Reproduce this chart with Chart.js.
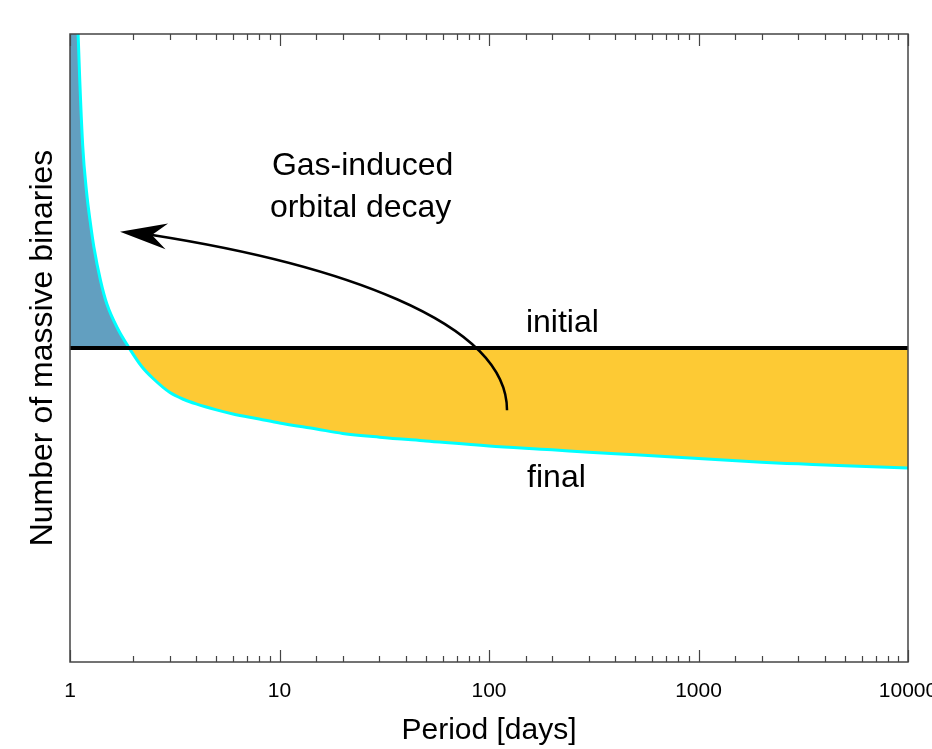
<!DOCTYPE html>
<html>
<head>
<meta charset="utf-8">
<script src="https://cdn.jsdelivr.net/npm/chart.js@4/dist/chart.umd.min.js"></script>
<style>
  body { margin: 0; background: #fff; }
</style>
</head>
<body>
<canvas id="myChart" width="932" height="749"></canvas>
<script>
// data
var periods = [1, 1.05, 1.1, 1.15, 1.2, 1.25, 1.3, 1.4, 1.5, 1.7, 1.9, 2.2, 2.5, 3, 3.5, 4, 5, 6, 8, 10, 15, 20, 30, 50, 100, 200, 300, 500, 1000, 2000, 3000, 5000, 10000];
var finalCounts = [1.6, 1.2, 0.975, 0.822, 0.748, 0.70, 0.661, 0.607, 0.570, 0.529, 0.502, 0.4705, 0.451, 0.429, 0.418, 0.411, 0.4015, 0.395, 0.387, 0.3806, 0.371, 0.364, 0.358, 0.352, 0.344, 0.338, 0.334, 0.330, 0.324, 0.318, 0.3155, 0.3124, 0.309];
var initialPeriods = [1, 10000];
var initialCounts = [0.5, 0.5];
var tickLabels = ['1', '10', '100', '1000', '10000'];

// arrow path (period, count): start, control 1, control 2, end
var arrowPath = [[121.9, 0.401], [121.9, 0.545], [17.8, 0.635], [2.463, 0.680]];
var arrowTip = [1.733, 0.685];

var FONT = "'Liberation Sans', Arial, Helvetica, sans-serif";

function toPoints(xs, ys) {
  return xs.map(function(v, i) { return {x: v, y: ys[i]}; });
}

var decorPlugin = {
  id: 'decor',
  afterDatasetsDraw: function(chart) {
    var ctx = chart.ctx, a = chart.chartArea;
    var x = chart.scales.x, y = chart.scales.y;
    ctx.save();

    // frame
    ctx.strokeStyle = '#444';
    ctx.lineWidth = 1.5;
    ctx.strokeRect(a.left, a.top, a.right - a.left, a.bottom - a.top);

    // inward ticks, top and bottom
    ctx.lineWidth = 1.2;
    x.ticks.forEach(function(t) {
      var px = Math.round(x.getPixelForValue(t.value)) + 0.5;
      var lg = Math.log10(t.value);
      var len = Math.abs(lg - Math.round(lg)) < 1e-9 ? 12 : 6;
      ctx.beginPath();
      ctx.moveTo(px, a.bottom); ctx.lineTo(px, a.bottom - len);
      ctx.moveTo(px, a.top); ctx.lineTo(px, a.top + len);
      ctx.stroke();
    });

    // curved arrow
    var p = arrowPath.map(function(q) { return [x.getPixelForValue(q[0]), y.getPixelForValue(q[1])]; });
    var tip = [x.getPixelForValue(arrowTip[0]), y.getPixelForValue(arrowTip[1])];
    ctx.strokeStyle = '#000';
    ctx.lineWidth = 2.5;
    ctx.beginPath();
    ctx.moveTo(p[0][0], p[0][1]);
    ctx.bezierCurveTo(p[1][0], p[1][1], p[2][0], p[2][1], p[3][0], p[3][1]);
    ctx.stroke();
    var dx = tip[0] - p[3][0], dy = tip[1] - p[3][1];
    var d = Math.sqrt(dx * dx + dy * dy);
    var ux = dx / d, uy = dy / d, nx = -uy, ny = ux;
    ctx.fillStyle = '#000';
    ctx.beginPath();
    ctx.moveTo(tip[0], tip[1]);
    ctx.lineTo(tip[0] - 47 * ux + 13 * nx, tip[1] - 47 * uy + 13 * ny);
    ctx.lineTo(tip[0] - 32 * ux, tip[1] - 32 * uy);
    ctx.lineTo(tip[0] - 47 * ux - 13 * nx, tip[1] - 47 * uy - 13 * ny);
    ctx.closePath();
    ctx.fill();

    // labels
    ctx.fillStyle = '#000';
    ctx.font = '32px ' + FONT;
    ctx.textAlign = 'left';
    ctx.textBaseline = 'alphabetic';
    var gx = x.getPixelForValue(9.2);
    ctx.fillText('Gas-induced', gx, y.getPixelForValue(0.775));
    ctx.fillText('orbital decay', gx - 2, y.getPixelForValue(0.709));
    ctx.fillText('initial', x.getPixelForValue(150), y.getPixelForValue(0.525));
    ctx.fillText('final', x.getPixelForValue(152), y.getPixelForValue(0.279));

    ctx.restore();
  }
};

var ctx = document.getElementById('myChart').getContext('2d');
var chart = new Chart(ctx, {
  type: 'line',
  data: {
    datasets: [{
      label: 'initial',
      data: toPoints(initialPeriods, initialCounts),
      borderColor: '#000',
      borderWidth: 4,
      pointRadius: 0,
      fill: false,
      order: 0
    }, {
      label: 'final',
      data: toPoints(periods, finalCounts),
      borderColor: '#00ffff',
      borderWidth: 3,
      pointRadius: 0,
      cubicInterpolationMode: 'monotone',
      clip: 0,
      fill: {
        target: {value: 0.5},
        above: '#629fc0',
        below: '#fdca34'
      },
      order: 1
    }]
  },
  options: {
    responsive: false,
    animation: false,
    layout: { padding: {top: 34, right: 24, left: 0, bottom: 0} },
    plugins: {
      legend: { display: false },
      tooltip: { enabled: false }
    },
    scales: {
      x: {
        type: 'logarithmic',
        min: 1,
        max: 10000,
        grid: { display: false, drawTicks: false },
        border: { display: false },
        ticks: {
          autoSkip: false,
          maxRotation: 0,
          minRotation: 0,
          padding: 17,
          color: '#000',
          font: { family: FONT, size: 21 },
          callback: function(value) {
            var lg = Math.log10(value);
            if (Math.abs(lg - Math.round(lg)) < 1e-9) return tickLabels[Math.round(lg)];
            return '';
          }
        },
        title: {
          display: true,
          text: 'Period [days]',
          color: '#000',
          font: { family: FONT, size: 30 },
          padding: {top: 0, bottom: 0}
        },
        afterFit: function(s) {
          s.height = 87;
          s.paddingLeft = 0;
          s.paddingRight = 0;
        }
      },
      y: {
        type: 'linear',
        min: 0,
        max: 1,
        grid: { display: false, drawTicks: false },
        border: { display: false },
        ticks: { display: false },
        title: {
          display: true,
          text: 'Number of massive binaries',
          color: '#000',
          font: { family: FONT, size: 32 },
          padding: {top: 24, bottom: 0}
        },
        afterFit: function(s) {
          s.width = 70;
        }
      }
    }
  },
  plugins: [decorPlugin]
});
</script>
</body>
</html>
